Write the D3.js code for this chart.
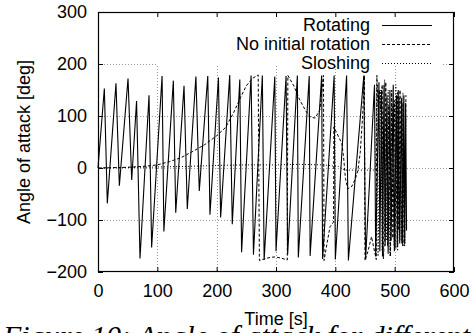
<!DOCTYPE html>
<html>
<head>
<meta charset="utf-8">
<script src="https://cdn.jsdelivr.net/npm/d3@7"></script>
<style>
  html, body { margin: 0; padding: 0; background: #fff; }
  svg { display: block; }
  text { font-family: "Liberation Sans", Arial, sans-serif; fill: #000; }
</style>
</head>
<body>
<svg id="chart" width="475" height="333"></svg>
<script>
// ---- data ----
const xTicks = [0, 100, 200, 300, 400, 500, 600];
const yTicks = [-200, -100, 0, 100, 200, 300];
const seriesNames = ["Rotating", "No initial rotation", "Sloshing"];

const rotatingT = [0,10.7,15.7,30.3,36,50.6,56.8,65,70.8,86,90.4,108,111,127,131,145,150.5,165,170.7,185,188.7,203,206.7,222,226.3,239,242,258,262,277,280,298,300,317,319.6,336,337.6,356,357.5,377,378.5,398,400,419,422,448,451,
  466,468,473.5,475,478,479.5,482,484,487,489,492,494,497.6,499.5,503,505,506,508.5,511.7,513.5,515.5,517,518.5,520];
const rotatingV = [0,153,-68,163,-34,172,-23,129,-174,140,-153,177,-122,168,-86,158,-79,176,-44,177,-90,174,-95,179,-108,170,-162,178,-167,178,-177,176,-160,177,-167,178,-172,177,-169,178,-175,178,-176,178,-178,178,-176,
  160,-170,165,-160,150,-170,160,-150,140,-165,150,-140,160,-160,140,-150,150,-145,135,-150,140,-145,125,-120];

const noRotT = [0,20,40,60,80,100,120,140,160,180,200,215,228,240,250,260,270,272,280,290,298,308,319,320,330,340,350,358,366,374,380,381,384,391,397,397.5,400,411,414,417,421,428,434,438,442,446,449,450,455,461,466,469,
  470,472,474,476,479,481,483,485,488,490,493,495,497,500,502,505,507,509,512,514,516,519];
const noRotV = [0,0.5,1,2,3.5,6,12,20,32,45,62,78,105,135,158,172,179,-178,-175,-172,-171,-173,-177,178,158,131,110,98,96,112,178,-178,-158,-113,-104,79,73,47,20,-20,-40,-35,-20,-5,30,100,178,-178,-160,-132,-160,-176,
  178,118,150,112,160,-175,-130,165,-150,120,-170,150,-135,130,-155,145,-120,150,-145,125,-150,140];

const sloshT = [0,50,100,150,200,250,300,340,380,405,416,440,468,470,472,476,479,483,486,489,492,496,499,502,505,508,511,514,517,519];
const sloshV = [0,1,2,3,5,6,6,7,6,3,-4,-4,-4,160,-170,150,-160,170,-140,150,-170,120,-150,160,-160,135,-140,145,-150,100];

// ---- layout ----
const svg = d3.select("#chart");
const L = 98, R = 454, T = 12, B = 272;
const x = d3.scaleLinear().domain([0, 600]).range([L, R]);
const y = d3.scaleLinear().domain([-200, 300]).range([B, T]);

svg.append("rect").attr("width", 475).attr("height", 333).attr("fill", "#fff");

// grid
const grid = svg.append("g").attr("stroke", "#9a9a9a").attr("stroke-width", 1).attr("stroke-dasharray", "1,2");
grid.selectAll("line.gx").data(xTicks.filter(d => d > 0 && d < 600)).join("line")
  .attr("x1", d => Math.round(x(d)) + 0.5).attr("x2", d => Math.round(x(d)) + 0.5)
  .attr("y1", T).attr("y2", B);
grid.selectAll("line.gy").data(yTicks.filter(d => d > -200 && d < 300)).join("line")
  .attr("y1", d => Math.round(y(d)) + 0.5).attr("y2", d => Math.round(y(d)) + 0.5)
  .attr("x1", L).attr("x2", R);

// key area blanks the grid
svg.append("rect").attr("x", 156).attr("y", T + 1).attr("width", 442 - 156).attr("height", 53).attr("fill", "#fff");

// series
const lineGen = d3.line().x(d => x(d[0])).y(d => y(d[1]));
const styles = [
  { t: rotatingT, v: rotatingV, dash: null, w: 1.1 },
  { t: noRotT, v: noRotV, dash: "3,2", w: 1 },
  { t: sloshT, v: sloshV, dash: "1,2", w: 1 }
];
const plot = svg.append("g");
plot.selectAll("path.series").data(styles).join("path")
  .attr("class", "series")
  .attr("fill", "none")
  .attr("stroke", "#000")
  .attr("stroke-width", d => d.w)
  .attr("stroke-dasharray", d => d.dash)
  .attr("d", d => lineGen(d3.zip(d.t, d.v)));

// border
svg.append("rect").attr("x", L + 0.5).attr("y", T + 0.5).attr("width", R - L - 1).attr("height", B - T - 1)
  .attr("fill", "none").attr("stroke", "#000").attr("stroke-width", 1.2);

// axes (ticks inward, mirrored)
const tickLen = 5;
const axB = d3.axisBottom(x).tickValues(xTicks).tickSize(-tickLen).tickPadding(12);
const axT = d3.axisTop(x).tickValues(xTicks).tickSize(-tickLen).tickFormat("");
const axL = d3.axisLeft(y).tickValues(yTicks).tickSize(-tickLen).tickPadding(11);
const axR = d3.axisRight(y).tickValues(yTicks).tickSize(-tickLen).tickFormat("");
function styleAxis(g) {
  g.select(".domain").remove();
  g.selectAll(".tick line").attr("stroke", "#000").attr("stroke-width", 1);
  g.selectAll(".tick text").attr("font-size", 18).attr("font-family", "Liberation Sans, Arial, sans-serif").attr("fill", "#000");
}
svg.append("g").attr("transform", `translate(0,${B})`).call(axB).call(styleAxis);
svg.append("g").attr("transform", `translate(0,${T})`).call(axT).call(styleAxis);
svg.append("g").attr("transform", `translate(${L},0)`).call(axL).call(styleAxis);
svg.append("g").attr("transform", `translate(${R},0)`).call(axR).call(styleAxis);

// axis titles
svg.append("text").attr("x", (L + R) / 2).attr("y", 325).attr("text-anchor", "middle")
  .attr("font-size", 18).text("Time [s]");
svg.append("text").attr("transform", `translate(30,${(T + B) / 2}) rotate(-90)`).attr("text-anchor", "middle")
  .attr("font-size", 18).text("Angle of attack [deg]");

// legend
const legY = [25, 44, 63];
const leg = svg.append("g");
styles.forEach((s, i) => {
  leg.append("text").attr("x", 370).attr("y", legY[i]).attr("dy", "0.35em").attr("text-anchor", "end")
    .attr("font-size", 18).text(seriesNames[i]);
  leg.append("line").attr("x1", 382).attr("x2", 432).attr("y1", legY[i] + 0.5).attr("y2", legY[i] + 0.5)
    .attr("stroke", "#000").attr("stroke-width", s.w).attr("stroke-dasharray", s.dash);
});

// caption (mostly cut off at the bottom edge, as in the reference)
svg.append("text").attr("x", 3).attr("y", 346)
  .attr("font-style", "italic")
  .attr("font-size", 30).style("font-family", "'Liberation Serif', serif")
  .text("Figure 10: Angle of attack for different");
</script>
</body>
</html>
